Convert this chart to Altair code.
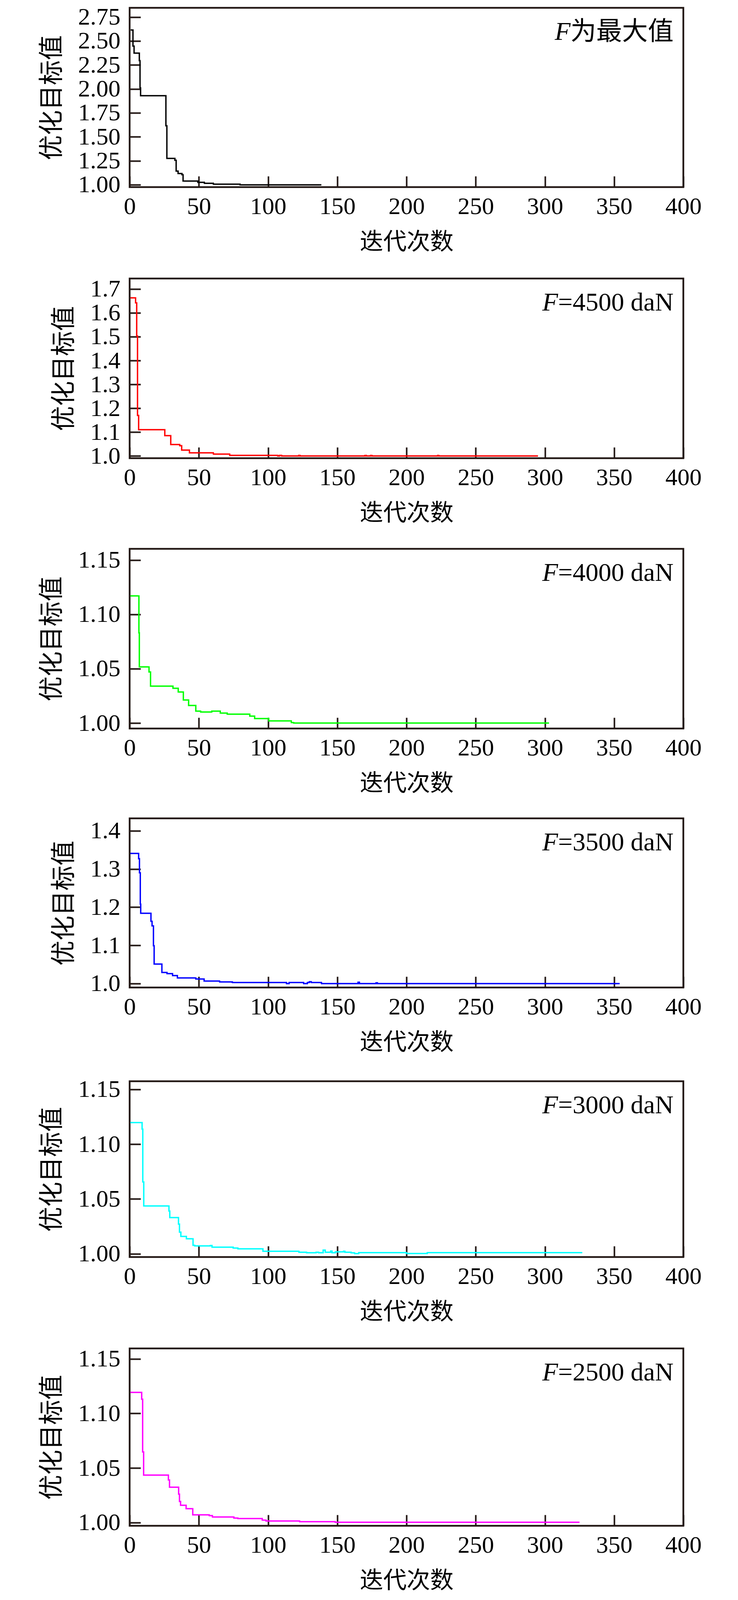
import altair as alt
import pandas as pd

# ---------------- data ----------------
x_ticks = [0, 50, 100, 150, 200, 250, 300, 350, 400]

it1 = [0.75, 2.4, 3.2, 7.0, 7.5, 7.9, 26.2, 26.9, 32.7, 33.6, 35.0, 37.8, 38.6, 49.3, 54.0, 60.5, 79.8, 138.5]
v1 = [2.615, 2.447, 2.373, 2.295, 2.010, 1.929, 1.615, 1.275, 1.255, 1.142, 1.117, 1.104, 1.038, 1.025, 1.015, 1.006, 0.998, 0.998]

it2 = [0.5, 4.3, 5.1, 5.7, 6.5, 25.4, 29.7, 36.2, 37.6, 43.2, 60.5, 72.3, 107.0, 108.3, 109.8, 122.2, 123.0,
       170.0, 171.0, 174.0, 175.0, 222.5, 223.3, 295.0]
v2 = [1.663, 1.642, 1.503, 1.170, 1.110, 1.085, 1.048, 1.043, 1.0245, 1.013, 1.0075, 1.0025, 1.000, 1.0025, 1.000,
      1.0025, 1.000, 1.002, 1.000, 1.002, 1.000, 1.002, 1.000, 1.000]

it3 = [0.5, 6.7, 7.0, 14.0, 15.1, 31.3, 35.1, 38.8, 42.6, 47.8, 51.3, 59.3, 65.5, 70.5, 86.8, 90.3, 100.5, 116.8, 118.5, 303.0]
v3 = [1.117, 1.083, 1.0517, 1.047, 1.034, 1.032, 1.0286, 1.0212, 1.0162, 1.011, 1.0102, 1.011, 1.0092, 1.0082,
      1.0064, 1.0042, 1.002, 1.0005, 1.000, 1.000]

it4 = [0.5, 6.5, 7.1, 7.7, 8.0, 15.4, 16.2, 17.2, 17.7, 23.3, 27.0, 31.0, 34.5, 47.8, 53.8, 65.0, 74.2, 113.3, 115.2,
       125.7, 128.4, 129.8, 131.2, 138.6, 165.0, 166.0, 178.0, 179.0, 354.0]
v4 = [1.3406, 1.327, 1.29, 1.208, 1.184, 1.163, 1.151, 1.099, 1.051, 1.029, 1.026, 1.021, 1.0147, 1.012, 1.0066,
      1.0044, 1.0028, 1.000, 1.0028, 1.000, 1.0028, 1.0047, 1.0028, 1.000, 1.0035, 1.000, 1.002, 1.000, 1.000]

it5 = [0.5, 9.0, 9.5, 10.2, 28.4, 29.0, 35.3, 36.0, 37.0, 41.0, 45.8, 47.0, 58.3, 59.5, 74.8, 78.2, 96.3, 122.3,
       127.8, 134.7, 136.5, 139.8, 141.3, 145.2, 146.2, 148.6, 154.5, 155.5, 160.0, 162.5, 165.5, 200.0, 215.0, 327.0]
v5 = [1.1197, 1.1137, 1.0655, 1.0436, 1.039, 1.033, 1.027, 1.0197, 1.0158, 1.0137, 1.0077, 1.0072, 1.0075, 1.006,
      1.0052, 1.0045, 1.0023, 1.0014, 1.0009, 1.0014, 1.0009, 1.0033, 1.0014, 1.0024, 1.0009, 1.0017, 1.0023,
      1.0014, 1.0008, 1.0001, 1.001, 1.0002, 1.001, 1.001]

it6 = [0.5, 8.7, 9.4, 10.1, 28.0, 28.8, 35.4, 36.0, 36.8, 40.8, 45.6, 57.5, 59.8, 75.3, 78.2, 95.8, 98.5, 122.8, 148.5, 325.0]
v6 = [1.1193, 1.113, 1.0647, 1.0435, 1.039, 1.0324, 1.026, 1.0193, 1.0158, 1.0127, 1.007, 1.0063, 1.0051, 1.0041,
      1.0036, 1.0022, 1.0014, 1.0008, 1.0002, 1.0002]

y_ticks = [
    [1.00, 1.25, 1.50, 1.75, 2.00, 2.25, 2.50, 2.75],
    [1.0, 1.1, 1.2, 1.3, 1.4, 1.5, 1.6, 1.7],
    [1.00, 1.05, 1.10, 1.15],
    [1.0, 1.1, 1.2, 1.3, 1.4],
    [1.00, 1.05, 1.10, 1.15],
    [1.00, 1.05, 1.10, 1.15],
]
y_domains = [[0.975, 2.846], [0.9905, 1.744], [0.995, 1.1603], [0.9897, 1.4325], [0.997, 1.1574], [0.997, 1.1596]]
y_formats = [".2f", ".1f", ".2f", ".1f", ".2f", ".2f"]
labels = ["为最大值", "=4500 daN", "=4000 daN", "=3500 daN", "=3000 daN", "=2500 daN"]

iters = [it1, it2, it3, it4, it5, it6]
vals = [v1, v2, v3, v4, v5, v6]

# ---------------- styles ----------------
colors = ["#000000", "#ff0000", "#00ff00", "#0000ff", "#00ffff", "#ff00ff"]
heights = [459, 460, 460, 433, 450, 454]
W = 1418
ANN_SIZE = 66
rest_w = [264, 296, 296, 296, 296, 296]
TICK = {"expr": "-28"}


def panel(i):
    df = pd.DataFrame({"iter": iters[i], "val": vals[i]})
    line = alt.Chart(df).mark_line(
        interpolate="step-after", color=colors[i], strokeWidth=3.5
    ).encode(
        x=alt.X("iter:Q",
                scale=alt.Scale(domain=[0, 400], nice=False, zero=False),
                axis=alt.Axis(values=x_ticks, format="d", title="迭代次数", tickSize=TICK)),
        y=alt.Y("val:Q",
                scale=alt.Scale(domain=y_domains[i], nice=False, zero=False),
                axis=alt.Axis(values=y_ticks[i], format=y_formats[i], title="优化目标值", tickSize=TICK)),
    )
    one = pd.DataFrame({"k": [0]})
    f_txt = alt.Chart(one).mark_text(
        text="F", font="Liberation Serif", fontStyle="italic", fontSize=ANN_SIZE,
        align="right", baseline="alphabetic", color="#000000"
    ).encode(x=alt.value(W - 25 - rest_w[i]), y=alt.value(82))
    rest_txt = alt.Chart(one).mark_text(
        text=labels[i], font="Liberation Serif, Noto Sans CJK SC", fontSize=ANN_SIZE,
        align="right", baseline="alphabetic", color="#000000"
    ).encode(x=alt.value(W - 25), y=alt.value(82))
    return alt.layer(line, f_txt, rest_txt).properties(width=W, height=heights[i])


chart = alt.vconcat(*[panel(i) for i in range(6)], spacing=53).properties(
    padding={"left": 91, "top": 2, "right": 10, "bottom": 2}
).configure_view(
    stroke="#231815", strokeWidth=4.5
).configure_axis(
    labelFont="Liberation Serif", labelFontSize=62, labelColor="#000000",
    titleFont="Noto Sans CJK SC", titleFontWeight="normal", titleColor="#000000",
    tickColor="#231815", tickWidth=4, domain=False, grid=False,
    labelFlush=False, labelOverlap=False,
).configure_axisX(
    labelPadding=47, titlePadding=32, titleFontSize=60
).configure_axisY(
    labelPadding=52, titlePadding=34, titleFontSize=64
)

chart.save("out.html", embed_options={"renderer": "svg", "actions": False})
